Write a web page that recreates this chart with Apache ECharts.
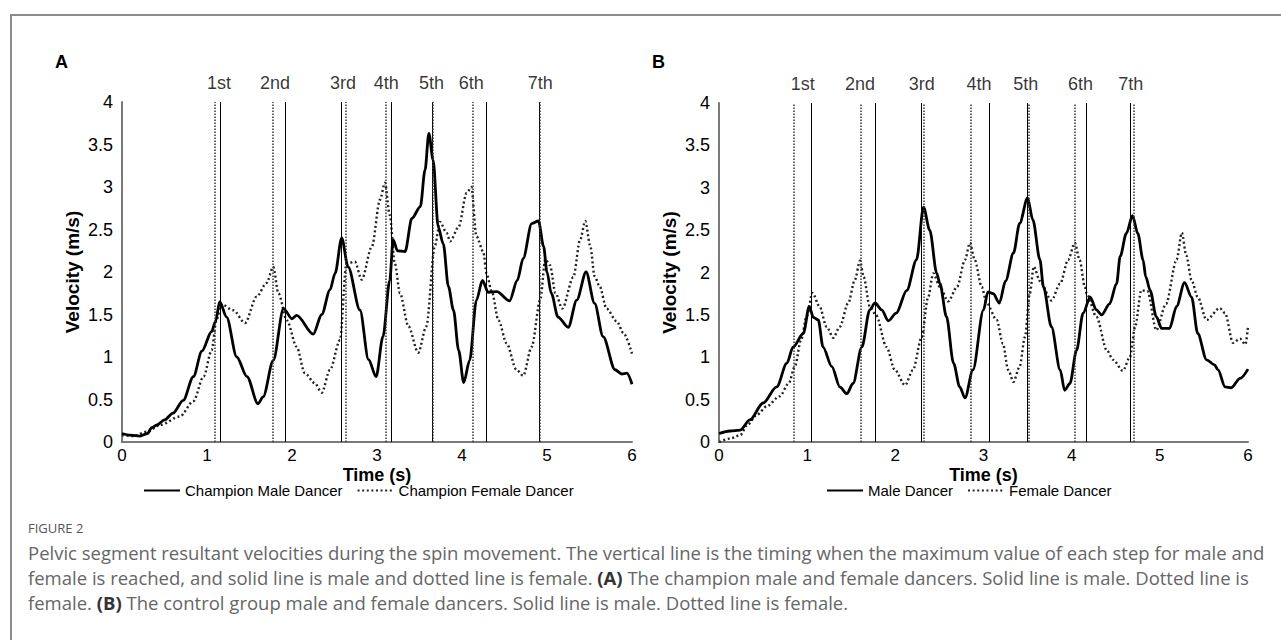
<!DOCTYPE html>
<html>
<head>
<meta charset="utf-8">
<script src="https://cdn.jsdelivr.net/npm/echarts@6/dist/echarts.min.js"></script>
<style>
  html, body { margin: 0; padding: 0; background: #fff; }
  #chart { width: 1281px; height: 640px; }
  .frame {
    position: absolute; left: 10px; top: 14px; width: 1271px; height: 626px;
    border-left: 2px solid #8c8c8c; border-top: 2px solid #8c8c8c;
    box-sizing: border-box; pointer-events: none;
  }
</style>
</head>
<body>
<div id="chart"></div>
<div class="frame"></div>
<script>
// step names shown above the vertical lines
const stepNames = ['1st', '2nd', '3rd', '4th', '5th', '6th', '7th'];

// panel A: champion dancers, [time (s), velocity (m/s)]
const maleA = [[0,0.10],[0.1,0.08],[0.21,0.07],[0.3,0.1],[0.35,0.17],[0.41,0.2],[0.5,0.26],[0.6,0.34],
  [0.72,0.49],[0.84,0.77],[0.94,1.07],[1.055,1.3],[1.1,1.42],[1.15,1.65],[1.23,1.47],[1.35,1.0],[1.47,0.77],
  [1.6,0.45],[1.66,0.53],[1.78,0.96],[1.9,1.57],[2.0,1.45],[2.055,1.49],[2.25,1.27],[2.35,1.5],[2.447,1.79],
  [2.506,1.98],[2.585,2.4],[2.66,2.06],[2.8,1.55],[2.9,0.97],[2.99,0.77],[3.07,1.24],[3.15,1.9],[3.19,2.38],
  [3.24,2.25],[3.33,2.24],[3.41,2.63],[3.51,2.77],[3.565,3.2],[3.61,3.63],[3.66,3.32],[3.72,2.53],[3.78,2.33],
  [3.84,1.83],[3.9,1.55],[3.96,1.08],[4.02,0.7],[4.09,0.96],[4.17,1.67],[4.24,1.9],[4.31,1.76],[4.41,1.77],
  [4.56,1.66],[4.65,1.9],[4.72,2.16],[4.82,2.57],[4.9,2.6],[4.96,2.3],[5.0,2.0],[5.05,1.75],[5.13,1.47],
  [5.25,1.35],[5.35,1.67],[5.46,2.0],[5.56,1.63],[5.66,1.24],[5.8,0.85],[5.88,0.8],[5.94,0.81],[6.0,0.68]];
const femaleA = [[0,0.08],[0.137,0.07],[0.29,0.12],[0.45,0.2],[0.68,0.3],[0.84,0.48],[0.96,0.77],[1.055,1.08],
  [1.11,1.43],[1.17,1.62],[1.31,1.55],[1.447,1.4],[1.585,1.71],[1.7,1.87],[1.78,2.06],[1.84,1.75],[1.94,1.43],
  [2.055,1.12],[2.15,0.81],[2.27,0.69],[2.35,0.58],[2.447,0.85],[2.565,1.2],[2.64,2.1],[2.74,2.12],[2.82,1.91],
  [2.94,2.3],[3.035,2.85],[3.094,3.05],[3.15,2.67],[3.21,2.1],[3.27,1.75],[3.37,1.36],[3.485,1.05],[3.58,1.36],
  [3.68,2.3],[3.74,2.59],[3.82,2.46],[3.86,2.36],[3.96,2.53],[4.055,2.93],[4.11,3.0],[4.17,2.42],[4.25,2.24],
  [4.29,1.98],[4.35,1.77],[4.43,1.43],[4.525,1.16],[4.64,0.85],[4.72,0.78],[4.82,1.12],[4.92,1.67],[4.98,2.15],
  [5.035,2.08],[5.1,1.75],[5.18,1.57],[5.31,1.94],[5.39,2.38],[5.45,2.6],[5.51,2.3],[5.56,1.95],[5.62,1.83],
  [5.7,1.57],[5.82,1.42],[5.9,1.28],[6.0,1.04]];
const stepsMaleA = [1.145, 1.918, 2.584, 3.165, 3.645, 4.29, 4.905];
const stepsFemaleA = [1.094, 1.77, 2.63, 3.10, 3.66, 4.125, 4.915];
const labelPosA = [1.14, 1.80, 2.60, 3.11, 3.64, 4.11, 4.92];

// panel B: control group dancers
const maleB = [[0,0.1],[0.125,0.13],[0.24,0.14],[0.35,0.26],[0.5,0.46],[0.654,0.65],[0.77,0.93],[0.84,1.12],
  [0.956,1.28],[1.024,1.6],[1.07,1.47],[1.126,1.44],[1.18,1.12],[1.28,0.89],[1.37,0.65],[1.45,0.57],[1.52,0.69],
  [1.62,1.12],[1.71,1.56],[1.77,1.64],[1.845,1.56],[1.92,1.43],[2.01,1.52],[2.13,1.79],[2.24,2.15],[2.32,2.77],
  [2.39,2.5],[2.47,1.99],[2.505,1.87],[2.58,1.48],[2.66,0.93],[2.73,0.65],[2.79,0.52],[2.88,0.85],[3.0,1.56],
  [3.05,1.77],[3.11,1.75],[3.18,1.64],[3.25,1.9],[3.34,2.23],[3.41,2.58],[3.5,2.88],[3.56,2.62],[3.64,2.15],
  [3.68,1.83],[3.77,1.36],[3.87,0.85],[3.92,0.61],[3.98,0.69],[4.055,1.08],[4.13,1.52],[4.21,1.71],[4.28,1.56],
  [4.34,1.5],[4.43,1.63],[4.51,1.87],[4.55,2.19],[4.62,2.46],[4.69,2.67],[4.75,2.46],[4.81,2.15],[4.84,1.95],
  [4.89,1.79],[4.96,1.48],[5.02,1.34],[5.11,1.34],[5.19,1.6],[5.28,1.88],[5.36,1.71],[5.43,1.28],[5.53,0.97],
  [5.62,0.91],[5.66,0.85],[5.74,0.65],[5.81,0.64],[5.91,0.75],[6.0,0.86]];
const femaleB = [[0,0.0],[0.125,0.04],[0.24,0.08],[0.32,0.2],[0.43,0.32],[0.54,0.42],[0.69,0.54],[0.79,0.69],
  [0.86,0.89],[0.93,1.2],[0.994,1.48],[1.06,1.76],[1.14,1.6],[1.22,1.36],[1.296,1.23],[1.37,1.36],[1.466,1.64],
  [1.54,1.91],[1.6,2.14],[1.64,1.95],[1.71,1.6],[1.78,1.5],[1.9,1.12],[1.995,0.85],[2.11,0.67],[2.2,0.85],
  [2.3,1.24],[2.37,1.7],[2.43,1.99],[2.505,1.83],[2.6,1.66],[2.7,1.83],[2.79,2.15],[2.846,2.35],[2.9,2.15],
  [2.98,1.83],[3.035,1.64],[3.15,1.44],[3.22,1.16],[3.28,0.85],[3.34,0.71],[3.41,0.89],[3.47,1.24],[3.525,1.75],
  [3.57,2.07],[3.64,1.9],[3.77,1.67],[3.87,1.87],[3.96,2.15],[4.036,2.35],[4.09,2.15],[4.15,1.83],[4.17,1.75],
  [4.28,1.48],[4.4,1.08],[4.47,0.97],[4.58,0.84],[4.66,1.0],[4.72,1.36],[4.79,1.79],[4.86,1.78],[4.96,1.32],
  [5.07,1.63],[5.19,2.15],[5.25,2.47],[5.3,2.2],[5.36,1.91],[5.43,1.71],[5.53,1.44],[5.68,1.58],[5.74,1.52],
  [5.83,1.17],[5.91,1.22],[5.97,1.15],[6.0,1.36]];
const stepsMaleB = [1.054, 1.773, 2.29, 3.058, 3.496, 4.172, 4.675];
const stepsFemaleB = [0.854, 1.606, 2.324, 2.86, 3.51, 4.04, 4.70];
const labelPosB = [0.95, 1.60, 2.30, 2.95, 3.48, 4.10, 4.67];

const FONT = 'Liberation Sans, Arial, sans-serif';
const CAPTION_FONT = 'Open Sans, sans-serif';

function xAxisOf(idx) {
  return {
    type: 'value', gridIndex: idx, min: 0, max: 6, interval: 1,
    name: 'Time (s)', nameLocation: 'middle', nameGap: 24, nameMoveOverlap: false,
    nameTextStyle: { fontFamily: FONT, fontSize: 18, fontWeight: 'bold', color: '#000' },
    axisLine: { show: true, onZero: false, lineStyle: { color: '#7a7a7a', width: 2 } },
    axisTick: { show: false },
    splitLine: { show: false },
    axisLabel: { fontFamily: FONT, fontSize: 17, color: '#000', margin: 5 }
  };
}

function yAxisOf(idx) {
  return {
    type: 'value', gridIndex: idx, min: 0, max: 4, interval: 0.5,
    name: 'Velocity (m/s)', nameLocation: 'middle', nameGap: 40, nameMoveOverlap: false,
    nameTextStyle: { fontFamily: FONT, fontSize: 19, fontWeight: 'bold', color: '#000' },
    axisLine: { show: true, lineStyle: { color: '#7a7a7a', width: 2 } },
    axisTick: { show: false },
    splitLine: { show: false },
    axisLabel: { fontFamily: FONT, fontSize: 18, color: '#000', margin: 9 }
  };
}

function stepLines(steps, dotted) {
  return {
    silent: true, symbol: 'none', animation: false,
    label: { show: false },
    lineStyle: dotted
      ? { color: '#333', width: 1.5, type: [1.5, 1.5] }
      : { color: '#000', width: 1, type: 'solid' },
    data: steps.map(x => ({ xAxis: x }))
  };
}

function panelSeries(idx, maleName, femaleName, male, female, stepsM, stepsF, labelPos) {
  return [
    {
      name: maleName, type: 'line', xAxisIndex: idx, yAxisIndex: idx,
      data: male, symbol: 'none', smooth: 0.3, smoothMonotone: 'x', z: 4,
      lineStyle: { color: '#000', width: 2.8 }, itemStyle: { color: '#000' },
      markLine: stepLines(stepsM, false)
    },
    {
      name: femaleName, type: 'line', xAxisIndex: idx, yAxisIndex: idx,
      data: female, symbol: 'none', smooth: 0.3, smoothMonotone: 'x', z: 3,
      lineStyle: { color: '#222', width: 2.4, type: [2, 2.6] }, itemStyle: { color: '#222' },
      markLine: stepLines(stepsF, true)
    },
    {
      type: 'scatter', xAxisIndex: idx, yAxisIndex: idx, silent: true,
      data: labelPos.map((x, i) => ({ value: [x, 4], name: stepNames[i] })),
      symbolSize: 1, itemStyle: { color: 'rgba(0,0,0,0)' },
      label: { show: true, position: 'top', distance: 10, formatter: p => p.name,
        fontFamily: FONT, fontSize: 18, color: '#000' }
    }
  ];
}

const legendBase = {
  top: 483, itemWidth: 36, itemHeight: 14, itemGap: 14, padding: 0,
  itemStyle: { opacity: 0 },
  textStyle: { fontFamily: FONT, fontSize: 15, color: '#000' }
};

const chart = echarts.init(document.getElementById('chart'), null, { renderer: 'svg' });

chart.setOption({
  animation: false,
  backgroundColor: '#fff',
  title: [
    { text: 'A', left: 50, top: 48, textStyle: { fontFamily: FONT, fontSize: 18, fontWeight: 'bold', color: '#000' } },
    { text: 'B', left: 647, top: 48, textStyle: { fontFamily: FONT, fontSize: 18, fontWeight: 'bold', color: '#000' } }
  ],
  grid: [
    { left: 122, right: 649, top: 102, bottom: 198, containLabel: false, outerBoundsMode: 'none' },
    { left: 719, right: 33, top: 103, bottom: 198, containLabel: false, outerBoundsMode: 'none' }
  ],
  xAxis: [xAxisOf(0), xAxisOf(1)],
  yAxis: [yAxisOf(0), yAxisOf(1)],
  legend: [
    Object.assign({}, legendBase, { left: 143, data: ['Champion Male Dancer', 'Champion Female Dancer'] }),
    Object.assign({}, legendBase, { left: 826, data: ['Male Dancer', 'Female Dancer'] })
  ],
  series: [].concat(
    panelSeries(0, 'Champion Male Dancer', 'Champion Female Dancer', maleA, femaleA, stepsMaleA, stepsFemaleA, labelPosA),
    panelSeries(1, 'Male Dancer', 'Female Dancer', maleB, femaleB, stepsMaleB, stepsFemaleB, labelPosB)
  ),
  graphic: [
    { type: 'text', left: 28, top: 521,
      style: { text: 'FIGURE 2', fontFamily: CAPTION_FONT, fontSize: 13, fill: '#555' } },
    { type: 'text', left: 28, top: 543,
      style: { fontFamily: CAPTION_FONT, fontSize: 18.5, fill: '#666',
        text: 'Pelvic segment resultant velocities during the spin movement. The vertical line is the timing when the maximum value of each step for male and' } },
    { type: 'text', left: 28, top: 568,
      style: { fontFamily: CAPTION_FONT, fontSize: 18.5, fill: '#666',
        text: 'female is reached, and solid line is male and dotted line is female. {b|(A)} The champion male and female dancers. Solid line is male. Dotted line is',
        rich: { b: { fontFamily: CAPTION_FONT, fontSize: 18.5, fontWeight: 'bold', fill: '#333' } } } },
    { type: 'text', left: 28, top: 593,
      style: { fontFamily: CAPTION_FONT, fontSize: 18.5, fill: '#666',
        text: 'female. {b|(B)} The control group male and female dancers. Solid line is male. Dotted line is female.',
        rich: { b: { fontFamily: CAPTION_FONT, fontSize: 18.5, fontWeight: 'bold', fill: '#333' } } } }
  ]
});
</script>
</body>
</html>
